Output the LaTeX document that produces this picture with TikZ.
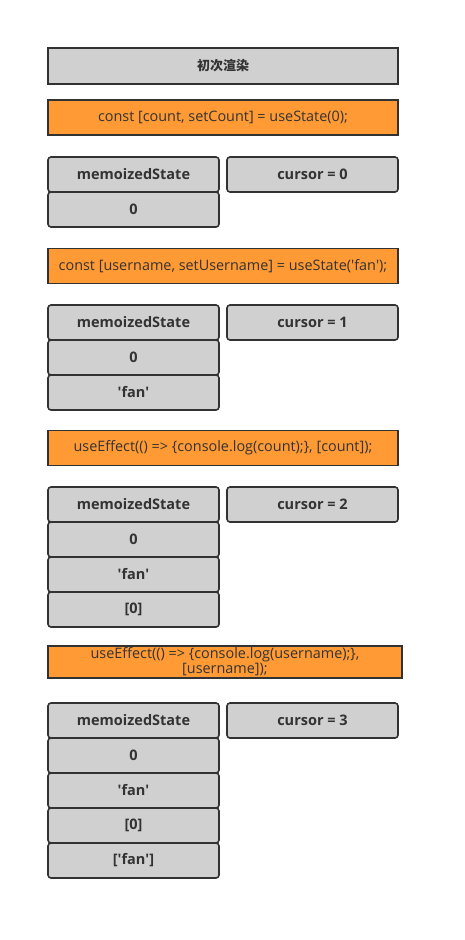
\documentclass[tikz,border=0pt]{standalone}
\usepackage{fontspec}
\setmainfont{Open Sans}
\newfontfamily\cjk{Noto Sans CJK SC}
\usepackage{tikz}
\usetikzlibrary{positioning}
\definecolor{cellgray}{HTML}{D0D0D0}
\definecolor{hookorange}{HTML}{FF9A35}
\definecolor{edgedark}{HTML}{323232}
\definecolor{textdark}{HTML}{333333}
\newcommand{\q}{\textquotesingle}

\begin{document}
\begin{tikzpicture}[
    x=1pt, y=-1pt,
    cell/.style={draw=edgedark, fill=cellgray, line width=1.6pt, rounded corners=3pt,
                 outer sep=0pt, minimum width=171pt, minimum height=35pt,
                 text=textdark, font=\fontsize{14.5}{16}\selectfont\bfseries},
    banner/.style={draw=edgedark, line width=1.6pt, outer sep=0pt,
                   minimum width=350pt, minimum height=35pt, inner sep=1pt,
                   text=textdark, align=center},
    title/.style={banner, fill=cellgray, minimum height=36pt,
                  font=\cjk\fontsize{13}{15}\selectfont\bfseries},
    hook/.style={banner, fill=hookorange, font=\fontsize{14.4}{16}\selectfont},
]
\useasboundingbox (0,0) rectangle (464,940);

\node[title] (render) at (223,66) {初次渲染};

% first hook
\node[hook] (hook1) at (223,117.5) {const [count, setCount] = useState(0);};
\node[cell] (memo1) at (133.5,174.5) {memoizedState};
\node[cell] (cursor1) at (312.5,174.5) {cursor = 0};
\node[cell, below=0pt of memo1] (a1) {0};

% second hook
\node[hook] (hook2) at (223,266) {const [username, setUsername] = useState(\q fan\q);};
\node[cell] (memo2) at (133.5,322.5) {memoizedState};
\node[cell] (cursor2) at (312.5,322.5) {cursor = 1};
\node[cell, below=0pt of memo2] (a2) {0};
\node[cell, below=0pt of a2] (b2) {\q fan\q};

% third hook
\node[hook] (hook3) at (223,448) {useEffect(() => \{console.log(count);\}, [count]);};
\node[cell] (memo3) at (133.5,504.5) {memoizedState};
\node[cell] (cursor3) at (312.5,504.5) {cursor = 2};
\node[cell, below=0pt of memo3] (a3) {0};
\node[cell, below=0pt of a3] (b3) {\q fan\q};
\node[cell, below=0pt of b3] (c3) {[0]};

% fourth hook
\node[hook, minimum width=354pt, minimum height=32pt] (hook4) at (225,662)
    {useEffect(() => \{console.log(username);\},\\[-1pt] [username]);};
\node[cell] (memo4) at (133.5,720.5) {memoizedState};
\node[cell] (cursor4) at (312.5,720.5) {cursor = 3};
\node[cell, below=0pt of memo4] (a4) {0};
\node[cell, below=0pt of a4] (b4) {\q fan\q};
\node[cell, below=0pt of b4] (c4) {[0]};
\node[cell, below=0pt of c4] (d4) {[\q fan\q]};
\end{tikzpicture}
\end{document}
